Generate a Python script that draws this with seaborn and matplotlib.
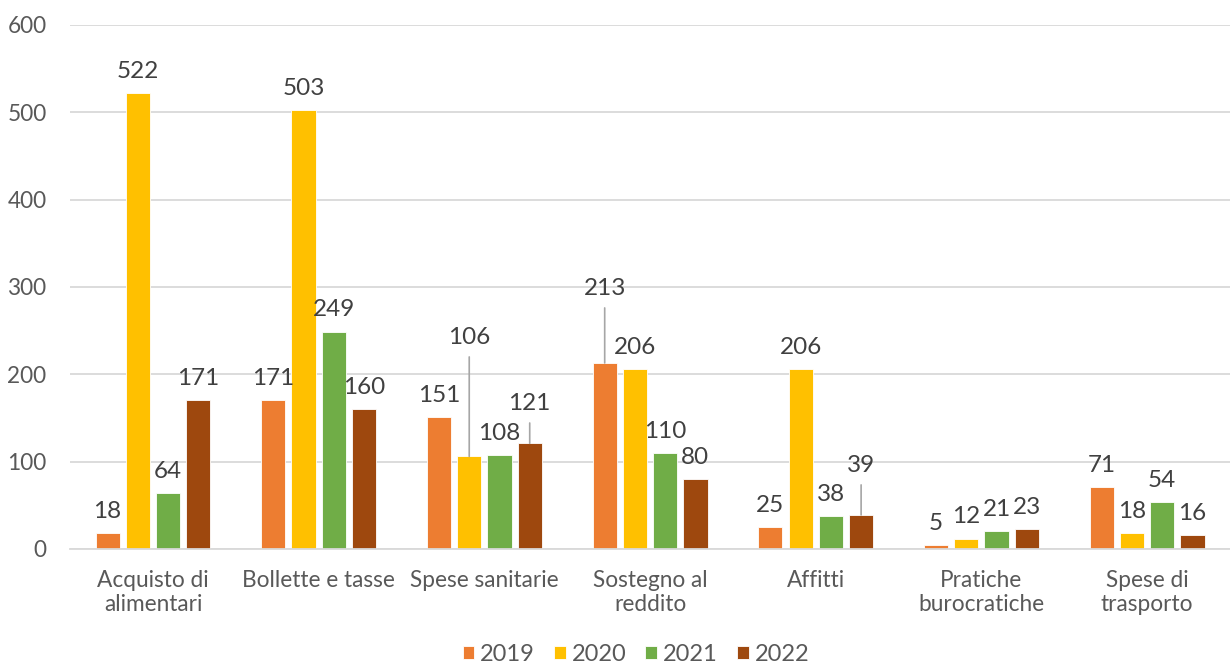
import numpy as np
import pandas as pd
import matplotlib.pyplot as plt
import seaborn as sns

categories = ["Acquisto di\nalimentari", "Bollette e tasse", "Spese sanitarie",
              "Sostegno al\nreddito", "Affitti", "Pratiche\nburocratiche",
              "Spese di\ntrasporto"]
years = ["2019", "2020", "2021", "2022"]
v2019 = [18, 171, 151, 213, 25, 5, 71]
v2020 = [522, 503, 106, 206, 206, 12, 18]
v2021 = [64, 249, 108, 110, 38, 21, 54]
v2022 = [171, 160, 121, 80, 39, 23, 16]

colors = ["#ED7D31", "#FFC000", "#70AD47", "#9E480E"]

# labels pulled up with a leader line (category index, year) -> offset in points
leader = {(2, "2020"): 78, (2, "2022"): 21, (3, "2019"): 46, (4, "2022"): 28}

rows = []
for y, vals in zip(years, [v2019, v2020, v2021, v2022]):
    for c, v in zip(categories, vals):
        rows.append({"cat": c, "year": y, "val": v})
df = pd.DataFrame(rows)

sns.set_theme(style="white")
plt.rcParams['font.family'] = ['Lato', 'DejaVu Sans']

fig = plt.figure(figsize=(12.3, 6.7), dpi=100, facecolor='white')
ax = fig.add_axes([0.057, 0.1806, 0.943, 0.7821])

sns.barplot(data=df, x="cat", y="val", hue="year", palette=colors, saturation=1,
            width=0.73, gap=0.2, edgecolor='white', linewidth=0.6,
            ax=ax, legend=True)

ax.set_ylim(0, 600)
ax.set_xlim(-0.5, 6.5)
ax.set_yticks(range(0, 601, 100))
ax.yaxis.grid(True, color='#D9D9D9', linewidth=1.3)
ax.set_axisbelow(True)
for s in ['top', 'right', 'left']:
    ax.spines[s].set_visible(False)
ax.spines['bottom'].set_color('#D9D9D9')
ax.spines['bottom'].set_linewidth(1.3)
ax.tick_params(axis='both', length=0, labelsize=16.3, labelcolor='#595959')
ax.tick_params(axis='y', pad=17)
ax.tick_params(axis='x', pad=15)
ax.set_xlabel(None)
ax.set_ylabel(None)

for cont, y in zip(ax.containers, years):
    for i, bar in enumerate(cont):
        h = bar.get_height()
        xc = bar.get_x() + bar.get_width() / 2
        if (i, y) in leader:
            ax.annotate(f"{int(h)}", xy=(xc, h), xytext=(0, leader[(i, y)]),
                        textcoords='offset points', ha='center', va='bottom',
                        fontsize=17.5, color='#404040',
                        arrowprops=dict(arrowstyle='-', color='#A6A6A6', lw=1.2,
                                        shrinkA=4, shrinkB=0, relpos=(0.5, 0)))
        else:
            ax.annotate(f"{int(h)}", xy=(xc, h), xytext=(0, 8),
                        textcoords='offset points', ha='center', va='bottom',
                        fontsize=17.5, color='#404040')

handles, labels = ax.get_legend_handles_labels()
ax.legend_.remove()
fig.legend(handles, labels, loc='lower center', bbox_to_anchor=(0.517, -0.024),
           ncol=4, frameon=False, fontsize=17, handlelength=0.5, handleheight=0.5,
           handletextpad=0.25, columnspacing=0.8, labelcolor='#595959')

plt.savefig('out.png', dpi=100, facecolor='white')
